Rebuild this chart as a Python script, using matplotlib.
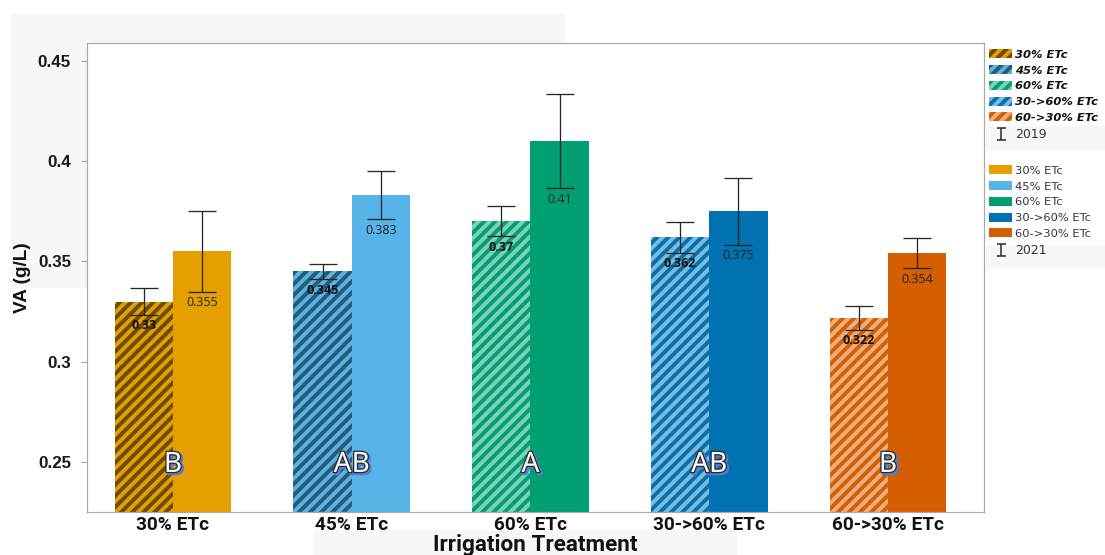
import matplotlib
matplotlib.use('Agg')
import matplotlib.pyplot as plt
import numpy as np
from matplotlib.patches import Patch, Rectangle
import matplotlib.patheffects as pe
from matplotlib.legend_handler import HandlerErrorbar

DPI = 100
W, H = 1105, 555


def pt(px):
    return px * 72.0 / DPI


def fx(px):
    return px / W


def fy(py):
    return 1 - py / H


# ---------------- data ----------------
categories = ['30% ETc', '45% ETc', '60% ETc', '30->60% ETc', '60->30% ETc']
va_2019 = [0.330, 0.345, 0.370, 0.362, 0.322]
err_2019 = [0.0067, 0.0038, 0.0075, 0.0077, 0.0060]
va_2021 = [0.355, 0.383, 0.410, 0.375, 0.354]
err_2021 = [0.0200, 0.0120, 0.0234, 0.0166, 0.0075]
letters = ['B', 'AB', 'A', 'AB', 'B']
yticks = [0.25, 0.3, 0.35, 0.4, 0.45]
ytick_labels = ['0.25', '0.3', '0.35', '0.4', '0.45']

colors = ['#E69F00', '#56B4E9', '#009E73', '#0072B2', '#D55E00']
stripe_colors = ['#6b4d00', '#2b5a74', '#80cfb9', '#80b9d9', '#eaae80']

plt.rcParams['hatch.linewidth'] = pt(4.0)

fig = plt.figure(figsize=(W / DPI, H / DPI), dpi=DPI)
fig.patch.set_facecolor('white')

# light grey background blocks
for (x0, y0, x1, y1) in [(11, 14, 565, 288), (314, 530, 737, 555),
                         (986, 126, 1105, 150), (986, 245, 1105, 268)]:
    fig.patches.append(Rectangle((fx(x0), fy(y1)), fx(x1) - fx(x0), fy(y0) - fy(y1),
                                 transform=fig.transFigure, facecolor='#f7f7f7',
                                 edgecolor='none', zorder=-5))

ax = fig.add_axes([fx(87), fy(512.3), fx(984) - fx(87), fy(43.3) - fy(512.3)])
ax.set_facecolor('white')

x = np.arange(len(categories))
w = 0.326

for i in range(len(categories)):
    ax.bar(x[i] - w / 2, va_2019[i], w, color=colors[i], hatch='///',
           edgecolor=stripe_colors[i], linewidth=0, zorder=2)
    ax.bar(x[i] + w / 2, va_2021[i], w, color=colors[i], linewidth=0, zorder=2)

ecol = '#262626'
eb19 = ax.errorbar(x - w / 2, va_2019, yerr=err_2019, fmt='none', ecolor=ecol,
                   elinewidth=pt(1.3), capsize=pt(14), capthick=pt(1.3), zorder=3)
eb21 = ax.errorbar(x + w / 2, va_2021, yerr=err_2021, fmt='none', ecolor=ecol,
                   elinewidth=pt(1.3), capsize=pt(14), capthick=pt(1.3), zorder=3)

lab_font = ['Open Sans', 'Noto Sans', 'DejaVu Sans']
for i in range(len(categories)):
    ax.annotate(f'{va_2019[i]:g}', xy=(x[i] - w / 2, va_2019[i] - err_2019[i]),
                xytext=(0, -pt(4.5)), textcoords='offset points', ha='center', va='top',
                fontsize=pt(12.5), fontweight='bold', family=lab_font,
                color='#111111', zorder=4)
    ax.annotate(f'{va_2021[i]:g}', xy=(x[i] + w / 2, va_2021[i] - err_2021[i]),
                xytext=(0, -pt(4.5)), textcoords='offset points', ha='center', va='top',
                fontsize=pt(12.5), family=lab_font,
                color='#222222', zorder=4)
    ax.text(x[i], 0.101, letters[i], transform=ax.get_xaxis_transform(),
            ha='center', va='center', fontsize=pt(28), color='white',
            family=['Noto Sans', 'DejaVu Sans'], zorder=5,
            path_effects=[pe.Stroke(linewidth=pt(3.2), foreground='#4f7fd0', offset=(pt(1.8), -pt(1.8))),
                          pe.Stroke(linewidth=pt(2.6), foreground='#2b2b2b'),
                          pe.Normal()])

ax.set_xlim(-0.481, 4.537)
ax.set_ylim(0.2249, 0.4588)
ax.set_yticks(yticks)
ax.set_yticklabels(ytick_labels)
ax.set_xticks(x)
ax.set_xticklabels(categories)

for sp in ax.spines.values():
    sp.set_color('#a9a9a9')
    sp.set_linewidth(pt(1.2))

ax.tick_params(axis='y', direction='out', length=pt(6), width=pt(1.2), color='#a9a9a9',
               pad=pt(10), labelsize=pt(17), labelcolor='#1a1a1a')
ax.tick_params(axis='x', length=0, pad=pt(4), labelsize=pt(19), labelcolor='#111111')
for t in ax.get_yticklabels():
    t.set_fontweight('bold')
    t.set_family(['Liberation Sans', 'DejaVu Sans'])
for t in ax.get_xticklabels():
    t.set_fontweight('bold')
    t.set_family(['Roboto', 'Liberation Sans', 'DejaVu Sans'])

ax.set_ylabel('VA (g/L)', fontsize=pt(19), fontweight='bold',
              family=['Liberation Sans', 'DejaVu Sans'], color='#111111')
ax.yaxis.set_label_coords((22.5 - 87) / 897, 0.5)
ax.yaxis.label.set_va('center')
ax.set_xlabel('Irrigation Treatment', fontsize=pt(22.5), fontweight='bold',
              family=['Roboto', 'Liberation Sans', 'DejaVu Sans'], color='#111111')
ax.xaxis.set_label_coords(0.5, -(545 - 512.3) / 469)
ax.xaxis.label.set_va('center')

# legend proxies for the error-bar symbols (not drawn: NaN data)
p19 = ax.errorbar([np.nan], [np.nan], yerr=[0.01], fmt='none', ecolor=ecol,
                  elinewidth=pt(1.5), capsize=pt(4.5), capthick=pt(1.5))
p21 = ax.errorbar([np.nan], [np.nan], yerr=[0.01], fmt='none', ecolor=ecol,
                  elinewidth=pt(1.5), capsize=pt(4.5), capthick=pt(1.5))
ax.set_xlim(-0.481, 4.537)
ax.set_ylim(0.2249, 0.4588)

h19 = [Patch(facecolor=colors[i], hatch='///', edgecolor=stripe_colors[i], linewidth=0)
       for i in range(len(categories))]
h21 = [Patch(facecolor=colors[i], linewidth=0) for i in range(len(categories))]

fs_leg = 11.5
common = dict(loc='upper left', frameon=False, handlelength=23 / fs_leg,
              handleheight=9.5 / fs_leg, handletextpad=0.3, labelspacing=0.46,
              borderpad=0, borderaxespad=0,
              prop={'family': ['DejaVu Sans'], 'size': pt(fs_leg)},
              handler_map={type(p19): HandlerErrorbar(xerr_size=0.5)})
leg1 = fig.legend(handles=h19 + [p19], labels=categories + ['2019'],
                  bbox_to_anchor=(fx(989), fy(49.3)), **common)
leg2 = fig.legend(handles=h21 + [p21], labels=categories + ['2021'],
                  bbox_to_anchor=(fx(989), fy(165.3)), **common)
for t in leg1.get_texts()[:5]:
    t.set_fontweight('bold')
    t.set_fontstyle('italic')
    t.set_color('#111111')
leg1.get_texts()[5].set_color('#333333')
leg1.get_texts()[5].set_fontsize(pt(12.5))
for t in leg2.get_texts()[:5]:
    t.set_color('#333344')
leg2.get_texts()[5].set_color('#333333')
leg2.get_texts()[5].set_fontsize(pt(12.5))

fig.savefig('out.png', dpi=DPI, facecolor='white')
